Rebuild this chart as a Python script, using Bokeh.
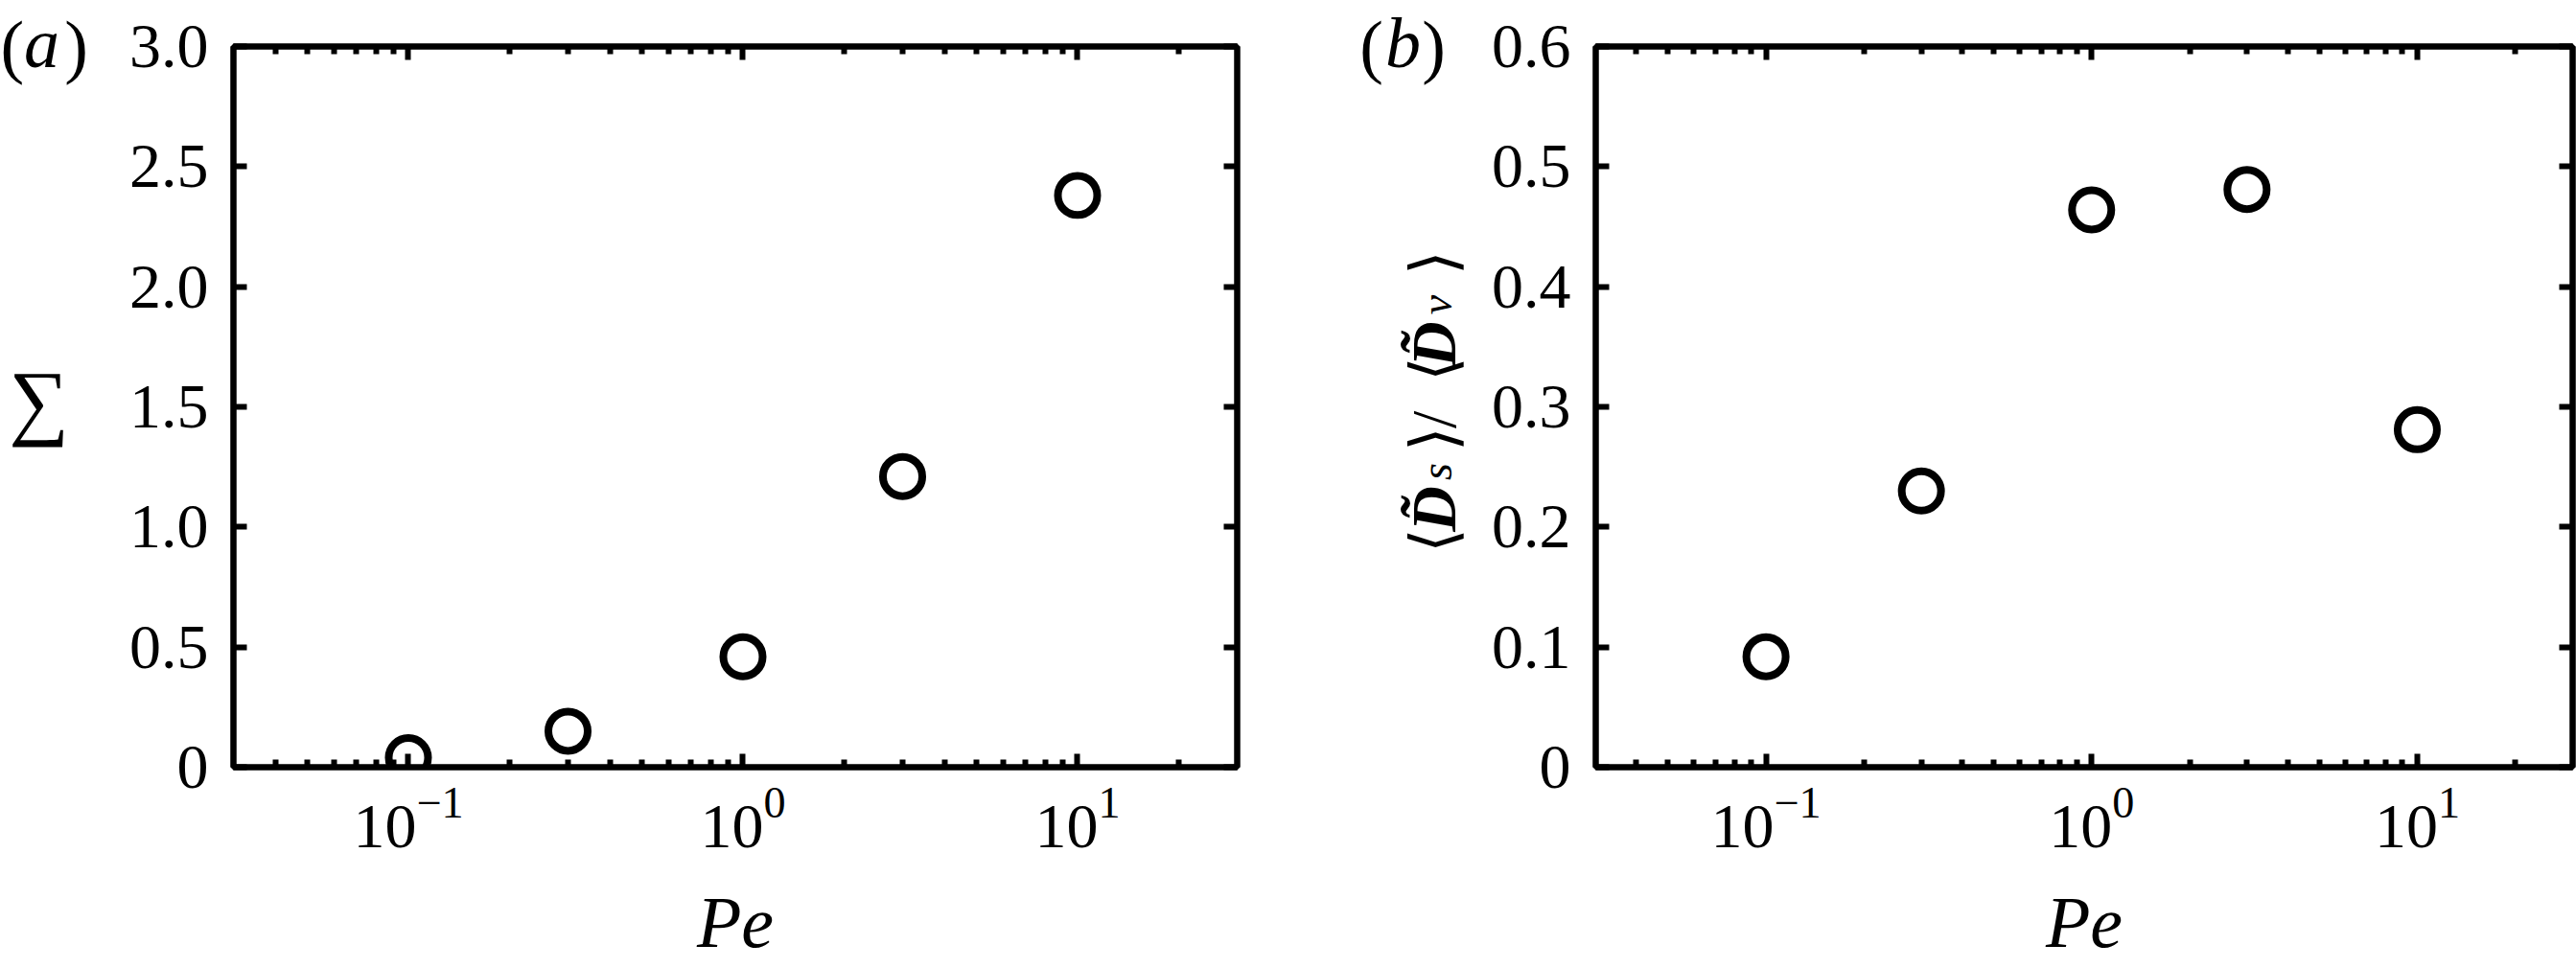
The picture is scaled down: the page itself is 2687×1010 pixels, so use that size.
import math
from bokeh.plotting import figure
from bokeh.models import Range1d, LogAxis, LinearAxis, FixedTicker, AllLabels
from bokeh.layouts import row
from bokeh.embed import file_html
from bokeh.resources import INLINE
from bokeh.core.properties import value

# ---------------- data ----------------
pe = [0.1, 0.3, 1.0, 3.0, 10.0]
sigma = [0.04, 0.15, 0.46, 1.21, 2.38]
ds_over_dv = [0.092, 0.230, 0.464, 0.481, 0.281]

x_major_ticks = [0.1, 1.0, 10.0]
x_minor_ticks = [0.04, 0.05, 0.06, 0.07, 0.08, 0.09,
                 0.2, 0.3, 0.4, 0.5, 0.6, 0.7, 0.8, 0.9,
                 2.0, 3.0, 4.0, 5.0, 6.0, 7.0, 8.0, 9.0, 20.0]

y_ticks_a = [0.0, 0.5, 1.0, 1.5, 2.0, 2.5, 3.0]
y_tick_labels_a = ["0", "0.5", "1.0", "1.5", "2.0", "2.5", "3.0"]
y_ticks_b = [0.0, 0.1, 0.2, 0.3, 0.4, 0.5, 0.6]
y_tick_labels_b = ["0", "0.1", "0.2", "0.3", "0.4", "0.5", "0.6"]

x_range = (0.03, 30.0)
x_label = "Pe"
panel_letters = ["a", "b"]

SERIF = "Liberation Serif"
H = 1010
FRAME_TOP = 47
FRAME_BOTTOM = 800


def style_axis(ax, show_labels, minor=True):
    ax.axis_line_width = 6
    ax.axis_line_color = "black"
    ax.major_tick_in = 14
    ax.major_tick_out = 0
    ax.major_tick_line_width = 6
    ax.major_tick_line_color = "black"
    if minor:
        ax.minor_tick_in = 8
        ax.minor_tick_out = 0
        ax.minor_tick_line_width = 6
        ax.minor_tick_line_color = "black"
    else:
        ax.minor_tick_line_color = None
    if show_labels:
        ax.major_label_text_font = SERIF
        ax.major_label_text_font_size = "66px"
        ax.major_label_text_color = "black"
    else:
        ax.major_label_text_font_size = "0px"
        ax.major_label_text_color = None
        ax.major_label_standoff = 0


def make_panel(width, mbl, mbr, yvals, ymax, yticks, ylabels):
    p = figure(width=width, height=H, x_axis_type="log",
               x_range=Range1d(*x_range), y_range=Range1d(0, ymax),
               output_backend="svg", toolbar_location=None,
               min_border_left=mbl, min_border_right=mbr,
               min_border_top=FRAME_TOP, min_border_bottom=H - FRAME_BOTTOM)
    p.xgrid.visible = False
    p.ygrid.visible = False
    p.outline_line_color = "black"
    p.outline_line_width = 6
    p.background_fill_color = "white"
    p.border_fill_color = "white"

    xb = p.xaxis[0]
    xb.ticker = FixedTicker(ticks=x_major_ticks, minor_ticks=x_minor_ticks)
    style_axis(xb, True)
    xb.major_label_standoff = 22
    xb.axis_label = x_label
    xb.axis_label_text_font = SERIF
    xb.axis_label_text_font_style = "italic"
    xb.axis_label_text_font_size = "76px"
    xb.axis_label_text_color = "black"
    xb.axis_label_standoff = 33

    yl = p.yaxis[0]
    yl.ticker = FixedTicker(ticks=yticks)
    yl.major_label_overrides = {t: l for t, l in zip(yticks, ylabels)}
    style_axis(yl, True, minor=False)
    yl.major_label_standoff = 26

    xa = LogAxis(ticker=FixedTicker(ticks=x_major_ticks, minor_ticks=x_minor_ticks))
    style_axis(xa, False)
    p.add_layout(xa, "above")

    yr = LinearAxis(ticker=FixedTicker(ticks=yticks))
    style_axis(yr, False, minor=False)
    p.add_layout(yr, "right")

    p.scatter(pe, yvals, marker="circle", size=41, fill_color=None,
              line_color="black", line_width=8)
    return p


def text_strip(width):
    # blank strip whose frame spans the same rows as the panels' frames;
    # its data coordinates are page pixels (y downwards)
    f = figure(width=width, height=H, x_range=Range1d(0, width),
               y_range=Range1d(FRAME_BOTTOM, FRAME_TOP),
               output_backend="svg", toolbar_location=None,
               min_border_left=0, min_border_right=0,
               min_border_top=FRAME_TOP, min_border_bottom=H - FRAME_BOTTOM,
               x_axis_location=None, y_axis_location=None)
    f.grid.visible = False
    f.outline_line_color = None
    f.background_fill_color = "white"
    f.border_fill_color = "white"
    return f


def letter_axis(f, xs, labels, style, standoff):
    # an invisible top axis whose only job is to print the panel letter
    ax = LinearAxis(ticker=FixedTicker(ticks=xs),
                    major_label_overrides={x: l for x, l in zip(xs, labels)},
                    major_label_policy=AllLabels())
    ax.axis_line_color = None
    ax.major_tick_line_color = None
    ax.minor_tick_line_color = None
    ax.major_tick_in = 0
    ax.major_tick_out = 0
    ax.minor_tick_in = 0
    ax.minor_tick_out = 0
    ax.major_label_text_font = SERIF
    ax.major_label_text_font_size = "74px"
    ax.major_label_text_font_style = style
    ax.major_label_text_color = "black"
    ax.major_label_standoff = standoff
    f.add_layout(ax, "above")


def txt(f, x, y, text, size, style="normal", angle=0.0, align="left", baseline="alphabetic"):
    f.text(x=[x], y=[y], text=[text], text_font=value(SERIF), text_font_size=value(size),
           text_font_style=value(style), text_color="black", angle=angle,
           text_align=align, text_baseline=baseline)


STRIP_A = 100
STRIP_B = 150
la = text_strip(STRIP_A)
pa = make_panel(1380 - STRIP_A, 243 - STRIP_A, 90, sigma, 3.0, y_ticks_a, y_tick_labels_a)
lb = text_strip(STRIP_B)
pb = make_panel(2687 - 1380 - STRIP_B, 1664 - 1380 - STRIP_B, 4, ds_over_dv, 0.6,
                y_ticks_b, y_tick_labels_b)

# panel letters: "(" and ")" upright, letter italic, printed in the strips' top border
for f, letter, xc in ((la, panel_letters[0], (12, 43, 79)), (lb, panel_letters[1], (50, 83, 115))):
    letter_axis(f, [xc[0], xc[2]], ["(", ")"], "normal", -40)
    letter_axis(f, [xc[1]], [letter], "italic", -82)

# y label of panel (a)
txt(la, 40, 417, "\u2211", "88px", align="center", baseline="middle")

# y label of panel (b):  <D~_s> / <D~_v>, rotated to read upwards
rot = math.pi / 2
bx = 115
txt(lb, bx, 576, "\u27e8", "66px", angle=rot)
txt(lb, bx, 554, "D\u0303", "66px", style="bold italic", angle=rot)
txt(lb, bx + 3, 500, "s", "46px", style="italic", angle=rot)
txt(lb, bx, 470, "\u27e9", "66px", angle=rot)
txt(lb, bx, 446, "/", "66px", angle=rot)
txt(lb, bx, 397, "\u27e8", "66px", angle=rot)
txt(lb, bx, 382, "D\u0303", "66px", style="bold italic", angle=rot)
txt(lb, bx + 3, 327, "v", "46px", style="italic", angle=rot)
txt(lb, bx, 286, "\u27e9", "66px", angle=rot)

layout = row(la, pa, lb, pb)
open("out.html", "w").write(file_html(layout, INLINE))
